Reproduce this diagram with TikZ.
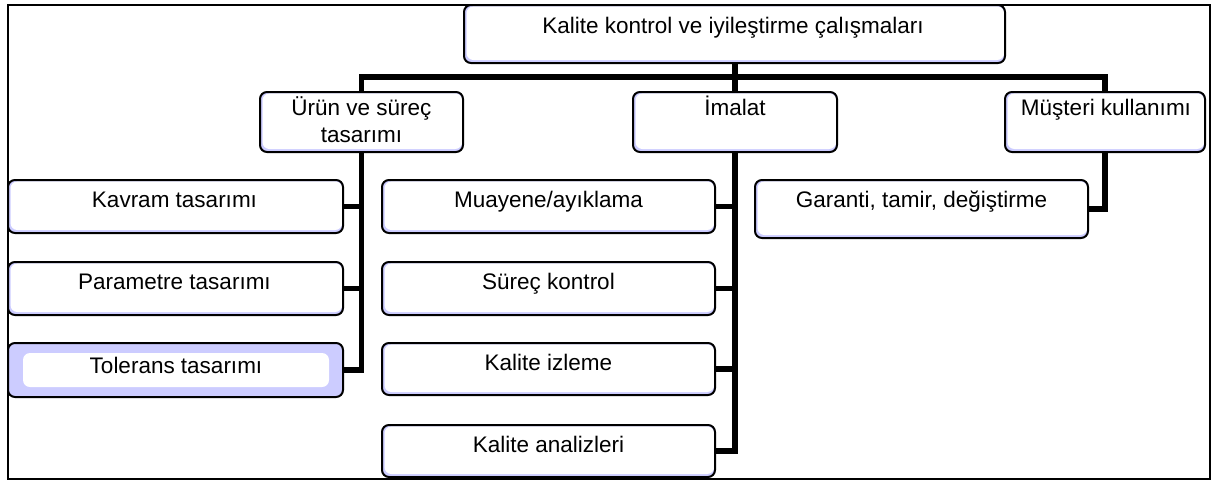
\documentclass[tikz,border=0pt]{standalone}
\usepackage{fontspec}
\setmainfont{Liberation Sans}
\usetikzlibrary{calc}
\definecolor{lav}{RGB}{204,204,255}
\pgfdeclarelayer{links}
\pgfsetlayers{links,main}
\begin{document}
\begin{tikzpicture}[x=1pt,y=-1pt,
  box/.style={draw=black, line width=2pt, rounded corners=7pt, fill=lav, inner sep=0pt,
    path picture={\fill[white] ([xshift=2.5pt,yshift=3pt]path picture bounding box.south west)
      rectangle ([xshift=-0.8pt,yshift=-1.4pt]path picture bounding box.north east);}},
  wide/.style={box, path picture={\fill[white] ([xshift=15pt,yshift=10pt]path picture bounding box.south west)
      rectangle ([xshift=-14pt,yshift=-10pt]path picture bounding box.north east);}},
  sz/.style 2 args={minimum width=#1pt, minimum height=#2pt},
  txt/.style={inner sep=0pt, anchor=base, font=\fontsize{22.5}{27}\selectfont},
  link/.style={draw=black, line width=5.5pt}]
\useasboundingbox (0,0) rectangle (1212,480);
\draw[line width=2pt] (7.5,4.5) rectangle (1209.5,478.5);

% boxes of the chart
\path
  node[box, sz={541}{58}] (top) at (734.5,34) {}
  node[box, sz={203}{60}] (urun) at (361.5,122) {}
  node[box, sz={204}{60}] (imalat) at (735,122) {}
  node[box, sz={200}{60}] (musteri) at (1105,122) {}
  node[box, sz={335}{53}] (kav) at (175.5,206.5) {}
  node[box, sz={335}{53}] (par) at (175.5,288.5) {}
  node[wide, sz={335}{54}] (tol) at (175.5,370) {}
  node[box, sz={333}{53}] (muay) at (548.5,206.5) {}
  node[box, sz={333}{53}] (sur) at (548.5,288.5) {}
  node[box, sz={333}{52}] (kiz) at (548.5,369) {}
  node[box, sz={333}{52}] (kan) at (548.5,451) {}
  node[box, sz={333}{58}] (gar) at (921.5,209) {};
\coordinate (bus) at (735,77);

% box captions
\node[txt] (topT) at (733,33) {Kalite kontrol ve iyileştirme çalışmaları};
\node[txt] (urunT1) at (361.5,115) {Ürün ve süreç};
\node[txt] (urunT2) at (361.5,142) {tasarımı};
\node[txt] (imalatT) at (735,115) {İmalat};
\node[txt] (musteriT) at (1106,115) {Müşteri kullanımı};
\node[txt] (kavT) at (174.5,207) {Kavram tasarımı};
\node[txt] (parT) at (174.5,289) {Parametre tasarımı};
\node[txt] (tolT) at (176,373) {Tolerans tasarımı};
\node[txt] (muayT) at (548.5,207) {Muayene/ayıklama};
\node[txt] (surT) at (548.5,289) {Süreç kontrol};
\node[txt] (kizT) at (548.5,370) {Kalite izleme};
\node[txt] (kanT) at (548.5,452) {Kalite analizleri};
\node[txt] (garT) at (921.5,207) {Garanti, tamir, değiştirme};

% connectors, behind the boxes
\begin{pgfonlayer}{links}
\draw[link] (imalat.north) -- (imalat.north |- top.south);
\draw[link] (urun.north) -- (urun.north |- bus) -- (musteri.north |- bus) -- (musteri.north);
\draw[link] (urun.south) |- (tol.east);
\draw[link] (kav.east) -- (kav.east -| urun.south);
\draw[link] (par.east) -- (par.east -| urun.south);
\draw[link] (imalat.south) |- (kan.east);
\draw[link] (muay.east) -- (muay.east -| imalat.south);
\draw[link] (sur.east) -- (sur.east -| imalat.south);
\draw[link] (kiz.east) -- (kiz.east -| imalat.south);
\draw[link] (musteri.south) |- (gar.east);
\end{pgfonlayer}
\end{tikzpicture}
\end{document}
